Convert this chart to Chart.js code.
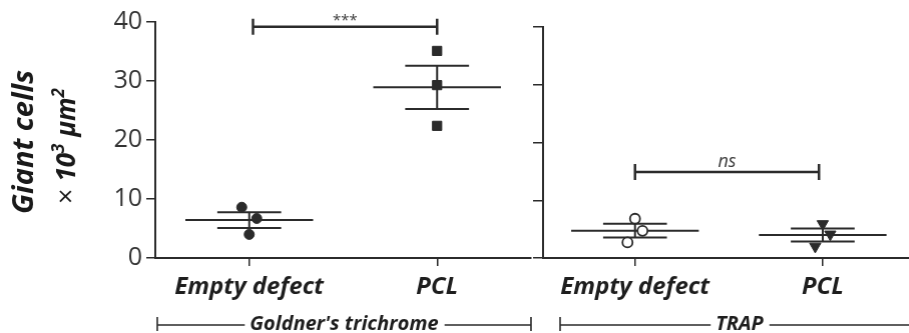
<!DOCTYPE html>
<html>
<head>
<meta charset="utf-8">
<script src="https://cdn.jsdelivr.net/npm/chart.js@4.4.1/dist/chart.umd.min.js"></script>
<style>
  body { margin: 0; background: #fff; }
  #wrap { position: relative; width: 909px; height: 333px; overflow: hidden; }
  canvas { position: absolute; top: 0; }
</style>
</head>
<body>
<div id="wrap">
  <canvas id="left" width="531" height="333" style="left:0"></canvas>
  <canvas id="right" width="379" height="333" style="left:530px"></canvas>
</div>
<script>
const categories = ["Empty defect", "PCL"];
const yTicks = [0, 10, 20, 30, 40];

// giant cells per 10^3 µm², three animals per group
const goldnerEmpty = [8.6, 6.7, 4.0];
const goldnerPCL = [35.1, 29.3, 22.4];
const trapEmpty = [6.8, 4.7, 2.7];
const trapPCL = [5.9, 4.1, 2.0];

// little sideways spread of the dots around each category
const goldnerEmptyJitter = [-0.04, 0.04, 0];
const goldnerPCLJitter = [0, 0, 0];
const trapEmptyJitter = [0, 0.04, -0.04];
const trapPCLJitter = [0, 0.04, -0.04];

const ink = "#2b2b2b";
const FONT = "Open Sans";
const meanHalf = 0.34;
const semHalf = 0.17;

const mean = (a) => a.reduce((s, v) => s + v, 0) / a.length;
const sem = (a) => {
  const m = mean(a);
  return Math.sqrt(a.reduce((s, v) => s + (v - m) ** 2, 0) / (a.length - 1) / a.length);
};

function seg(x1, y1, x2, y2) {
  return {
    data: [{ x: x1, y: y1 }, { x: x2, y: y2 }],
    showLine: true,
    borderColor: ink,
    borderWidth: 2,
    pointRadius: 0,
    order: 2,
  };
}

function meanSem(xc, vals) {
  const m = mean(vals);
  const e = sem(vals);
  return [
    seg(xc - meanHalf, m, xc + meanHalf, m),
    seg(xc - semHalf, m + e, xc + semHalf, m + e),
    seg(xc - semHalf, m - e, xc + semHalf, m - e),
    seg(xc, m - e, xc, m + e),
  ];
}

function dots(xc, vals, jit, style) {
  return Object.assign(
    {
      data: vals.map((v, i) => ({ x: xc + jit[i], y: v })),
      borderColor: ink,
      backgroundColor: ink,
      borderWidth: 1,
      order: 0,
    },
    style
  );
}

// significance bar between two groups
function sigBracket(id, x1, x2, y, label, font, gap) {
  return {
    id: id,
    afterDatasetsDraw(chart) {
      const { ctx, scales } = chart;
      const p1 = scales.x.getPixelForValue(x1);
      const p2 = scales.x.getPixelForValue(x2);
      const py = scales.y.getPixelForValue(y);
      ctx.save();
      ctx.strokeStyle = ink;
      ctx.lineWidth = 2.5;
      ctx.beginPath();
      ctx.moveTo(p1, py);
      ctx.lineTo(p2, py);
      ctx.moveTo(p1, py - 8);
      ctx.lineTo(p1, py + 8);
      ctx.moveTo(p2, py - 8);
      ctx.lineTo(p2, py + 8);
      ctx.stroke();
      ctx.fillStyle = "#3a3a3a";
      ctx.font = font;
      ctx.textAlign = "center";
      ctx.textBaseline = "alphabetic";
      ctx.fillText(label, (p1 + p2) / 2, py - gap);
      ctx.restore();
    },
  };
}

// stain bracket under the category labels
function groupBracket(id, label, leftPad, rightOver) {
  return {
    id: id,
    afterDraw(chart) {
      const { ctx, chartArea } = chart;
      const x1 = chartArea.left + leftPad;
      const x2 = chartArea.right + rightOver;
      const y = 325;
      ctx.save();
      ctx.font = 'italic bold 20px "' + FONT + '"';
      const w = ctx.measureText(label).width;
      const mid = (x1 + x2) / 2;
      ctx.strokeStyle = ink;
      ctx.lineWidth = 1.6;
      ctx.beginPath();
      ctx.moveTo(x1, y);
      ctx.lineTo(mid - w / 2 - 5, y);
      ctx.moveTo(mid + w / 2 + 6, y);
      ctx.lineTo(x2, y);
      ctx.moveTo(x1, y - 8);
      ctx.lineTo(x1, y + 6);
      ctx.moveTo(x2, y - 8);
      ctx.lineTo(x2, y + 6);
      ctx.stroke();
      ctx.fillStyle = "#1e1e1e";
      ctx.textAlign = "center";
      ctx.textBaseline = "alphabetic";
      ctx.fillText(label, mid, 330);
      ctx.restore();
    },
  };
}

const yTitle = {
  id: "ytitle",
  afterDraw(chart) {
    const ctx = chart.ctx;
    ctx.save();
    ctx.fillStyle = "#1a1a1a";
    ctx.textBaseline = "alphabetic";
    ctx.translate(33, 142);
    ctx.rotate(-Math.PI / 2);
    ctx.font = 'italic bold 29px "' + FONT + '"';
    ctx.textAlign = "center";
    ctx.fillText("Giant cells", 0, 0);
    ctx.restore();

    const runs = [
      ["× ", '27px "' + FONT + '"', 0],
      ["10", 'italic bold 26px "' + FONT + '"', 0],
      ["3", 'italic bold 17px "' + FONT + '"', -11],
      [" µm", 'italic bold 26px "' + FONT + '"', 0],
      ["2", 'italic bold 17px "' + FONT + '"', -11],
    ];
    ctx.save();
    ctx.fillStyle = "#1a1a1a";
    ctx.textAlign = "left";
    ctx.textBaseline = "alphabetic";
    ctx.translate(75, 146);
    ctx.rotate(-Math.PI / 2);
    let total = 0;
    runs.forEach((r) => {
      ctx.font = r[1];
      total += ctx.measureText(r[0]).width;
    });
    let x = -total / 2;
    runs.forEach((r) => {
      ctx.font = r[1];
      ctx.fillText(r[0], x, r[2]);
      x += ctx.measureText(r[0]).width;
    });
    ctx.restore();
  },
};

function panelOptions(opts) {
  return {
    responsive: false,
    maintainAspectRatio: false,
    animation: false,
    layout: { padding: { top: opts.top, right: 0, left: 0, bottom: 0 } },
    plugins: { legend: { display: false }, tooltip: { enabled: false } },
    scales: {
      x: {
        type: "linear",
        min: opts.xmin,
        max: opts.xmax,
        afterBuildTicks: (s) => {
          s.ticks = categories.map((c, i) => ({ value: i }));
        },
        afterFit: (s) => {
          s.height = 75;
        },
        ticks: {
          callback: (v) => categories[v],
          color: "#1e1e1e",
          padding: 7,
          maxRotation: 0,
          font: { family: FONT, size: 24, style: "italic", weight: "bold" },
        },
        grid: { drawOnChartArea: false, tickLength: 8, color: ink, lineWidth: 1.5 },
        border: { color: ink, width: 2 },
      },
      y: {
        min: 0,
        max: 40,
        afterBuildTicks: (s) => {
          s.ticks = yTicks.map((v) => ({ value: v }));
        },
        afterFit: (s) => {
          s.width = opts.yWidth;
        },
        ticks: {
          display: opts.yLabels,
          color: "#333",
          padding: 4,
          font: { family: FONT, size: 25 },
        },
        grid: { drawOnChartArea: false, tickLength: opts.tick, color: ink, lineWidth: 1.5 },
        border: { color: ink, width: 2 },
      },
    },
  };
}

// chart.js keeps a few px free on the right; widen the canvas until the plot ends where we want
function pinRight(chart, target) {
  for (let i = 0; i < 4; i++) {
    const extra = target - chart.chartArea.right;
    if (Math.abs(extra) < 0.5) break;
    chart.resize(chart.width + extra, chart.height);
  }
}

const leftChart = new Chart(document.getElementById("left"), {
  type: "scatter",
  data: {
    datasets: [
      dots(0, goldnerEmpty, goldnerEmptyJitter, { pointStyle: "circle", pointRadius: 5 }),
      dots(1, goldnerPCL, goldnerPCLJitter, { pointStyle: "rect", pointRadius: 6.5 }),
      ...meanSem(0, goldnerEmpty),
      ...meanSem(1, goldnerPCL),
    ],
  },
  options: panelOptions({ top: 22, xmin: -0.5, xmax: 1.5, yWidth: 155, yLabels: true, tick: 9 }),
  plugins: [
    sigBracket("sigL", 0.02, 1, 39.2, "***", '15px "' + FONT + '"', 2),
    groupBracket("grpL", "Goldner's trichrome", 2, 0),
    yTitle,
  ],
});
pinRight(leftChart, 530);

const rightChart = new Chart(document.getElementById("right"), {
  type: "scatter",
  data: {
    datasets: [
      dots(0, trapEmpty, trapEmptyJitter, {
        pointStyle: "circle",
        pointRadius: 5,
        backgroundColor: "#fff",
        borderWidth: 1.8,
      }),
      dots(1, trapPCL, trapPCLJitter, { pointStyle: "triangle", rotation: 180, pointRadius: 6.5 }),
      ...meanSem(0, trapEmpty),
      ...meanSem(1, trapPCL),
    ],
  },
  options: panelOptions({ top: 27, xmin: -0.49, xmax: 1.465, yWidth: 13, yLabels: false, tick: 10 }),
  plugins: [
    sigBracket("sigR", 0, 0.98, 14.9, "ns", 'italic 18px "' + FONT + '"', 5),
    groupBracket("grpR", "TRAP", 17, 9),
  ],
});
pinRight(rightChart, 379);
</script>
</body>
</html>
